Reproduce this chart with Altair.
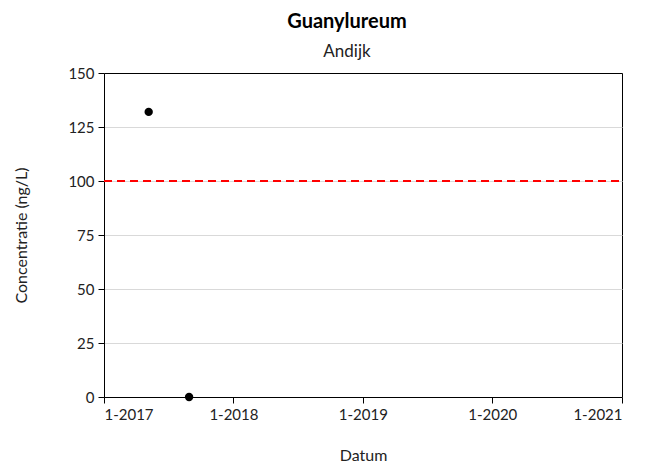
import altair as alt
import pandas as pd

dates = ["2017-05-07", "2017-08-29"]
values = [132, 0]
norm_value = [100]
x_ticks = ["2017-01-01", "2018-01-01", "2019-01-01", "2020-01-01", "2021-01-01"]
y_ticks = [0, 25, 50, 75, 100, 125, 150]

FONT = "Lato"

df = pd.DataFrame({"Datum": pd.to_datetime(dates), "Conc": values})
norm = pd.DataFrame({"start": pd.to_datetime([x_ticks[0]]), "end": pd.to_datetime([x_ticks[-1]]), "y": norm_value})

xscale = alt.Scale(domain=[pd.Timestamp(x_ticks[0]).isoformat(), pd.Timestamp(x_ticks[-1]).isoformat()], nice=False)
yscale = alt.Scale(domain=[y_ticks[0], y_ticks[-1]], nice=False)
tick_vals = [pd.Timestamp(t).isoformat() for t in x_ticks]
last_year = pd.Timestamp(x_ticks[-1]).year

xaxis = alt.Axis(title="Datum", format="%-m-%Y", values=tick_vals, grid=True,
                 gridColor="black",
                 gridOpacity=alt.condition(f"year(datum.value) == {last_year}", alt.value(1), alt.value(0)),
                 labelFontSize=15, titleFontSize=16, titleFontWeight="normal",
                 labelColor="#222222", titleColor="#222222", domainColor="black",
                 tickColor="black", tickSize=6, labelPadding=4, titlePadding=25,
                 labelFont=FONT, titleFont=FONT)
yaxis = alt.Axis(title="Concentratie (ng/L)", values=y_ticks,
                 labelFontSize=15, titleFontSize=16, titleFontWeight="normal",
                 labelColor="#222222", titleColor="#222222", domainColor="black",
                 tickColor="black", tickSize=6,
                 gridColor=alt.condition(alt.datum.value == y_ticks[-1], alt.value("black"), alt.value("#d9d9d9")),
                 labelPadding=4, titlePadding=38, labelFont=FONT, titleFont=FONT)

points = alt.Chart(df).mark_point(filled=True, color="black", size=70, opacity=1).encode(
    x=alt.X("Datum:T", scale=xscale, axis=xaxis),
    y=alt.Y("Conc:Q", scale=yscale, axis=yaxis),
)

line = alt.Chart(norm).mark_rule(color="#ff0000", strokeWidth=2, strokeDash=[8, 5]).encode(
    x=alt.X("start:T", scale=xscale),
    x2="end:T",
    y=alt.Y("y:Q", scale=yscale),
)

chart = alt.layer(line, points).properties(
    width=518, height=324,
    title=alt.TitleParams(text="Guanylureum", subtitle="Andijk", font=FONT, subtitleFont=FONT,
                          fontSize=20, fontWeight="bold", subtitleFontSize=17,
                          color="black", subtitleColor="#222222", anchor="middle",
                          dx=-16, offset=6, subtitlePadding=12),
    autosize="none",
    padding={"left": 96, "top": 65, "right": 33, "bottom": 65},
).configure_view(stroke="#000000", strokeWidth=1, strokeOpacity=1).configure(background="white")

chart.save("out.html", embed_options={"renderer": "svg", "actions": False})
